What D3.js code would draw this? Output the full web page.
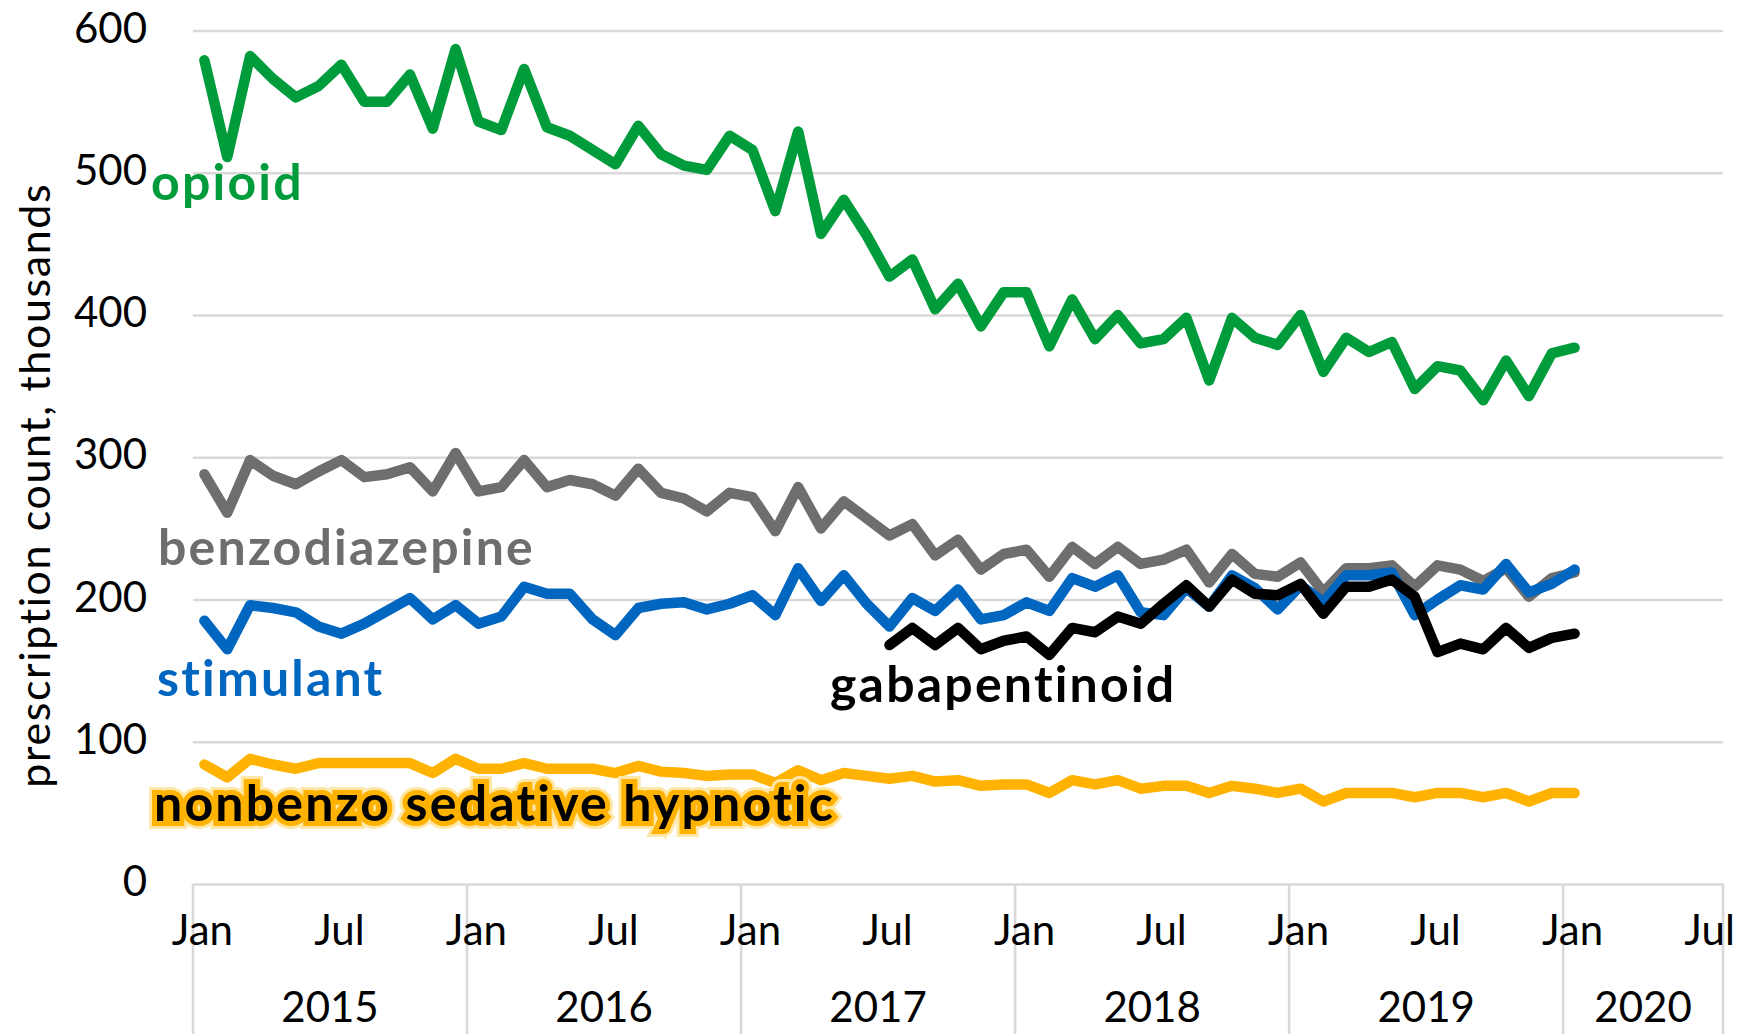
<!DOCTYPE html>
<html>
<head>
<meta charset="utf-8">
<script src="https://cdn.jsdelivr.net/npm/d3@7"></script>
<style>
  body { margin: 0; background: #fff; }
  text { font-family: Lato, "Open Sans", sans-serif; }
</style>
</head>
<body>
<div id="chart"></div>
<script>
//size of the svg
var width = 1739;
var height = 1034;

//plot area
var margin = {top: 30.5, right: 16, bottom: 150, left: 193};

//years and month labels on the category axis
var years = [2015, 2016, 2017, 2018, 2019, 2020];
var monthNames = ["Jan", "Feb", "Mar", "Apr", "May", "Jun",
                  "Jul", "Aug", "Sep", "Oct", "Nov", "Dec"];
var lastMonth = 7; //axis ends with Jul 2020
var yTicks = [0, 100, 200, 300, 400, 500, 600];

//monthly prescription counts (thousands), Jan 2015 - Jan 2020
var opioid = [579, 511, 582, 566, 553, 561, 576, 550, 550, 569, 531, 587,
              536, 530, 573, 532, 526, 516, 506, 533, 513, 505, 502, 526,
              516, 473, 529, 457, 481, 456, 427, 439, 404, 422, 392, 416,
              416, 378, 411, 383, 400, 380, 383, 398, 354, 398, 384, 379,
              400, 360, 384, 374, 381, 348, 364, 361, 340, 368, 343, 373,
              377];
var benzodiazepine = [288, 261, 298, 287, 281, 290, 298, 286, 288, 293, 276, 303,
                      276, 279, 298, 279, 284, 281, 273, 292, 275, 271, 262, 275,
                      272, 248, 279, 250, 269, 257, 245, 253, 231, 242, 221, 232,
                      235, 216, 237, 225, 237, 225, 228, 235, 212, 232, 218, 216,
                      226, 205, 222, 222, 224, 209, 224, 221, 213, 222, 202, 215,
                      219];
var stimulant = [185, 165, 196, 194, 191, 181, 176, 183, 192, 201, 186, 196,
                 183, 188, 209, 204, 204, 186, 175, 194, 197, 198, 193, 197,
                 203, 189, 222, 199, 217, 197, 181, 201, 192, 207, 186, 189,
                 198, 192, 215, 209, 217, 191, 189, 208, 195, 217, 208, 193,
                 210, 198, 217, 217, 219, 189, 200, 210, 207, 225, 205, 211,
                 221];
//gabapentinoid starts in Jul 2017
var gabapentinoidStart = 30;
var gabapentinoid = [168, 180, 168, 180, 165, 171,
                     174, 161, 180, 177, 188, 183, 197, 210, 195, 214, 204, 203,
                     211, 190, 209, 209, 214, 202, 163, 169, 165, 180, 166, 173,
                     176];
var nonbenzo = [84, 75, 88, 84, 81, 85, 85, 85, 85, 85, 78, 88,
                81, 81, 85, 81, 81, 81, 78, 83, 79, 78, 76, 77,
                77, 71, 80, 73, 78, 76, 74, 76, 72, 73, 69, 70,
                70, 64, 73, 70, 73, 67, 69, 69, 64, 69, 67, 64,
                67, 58, 64, 64, 64, 61, 64, 64, 61, 64, 58, 64,
                64];

//series names and colours, drawn in this order
var seriesNames = ["opioid", "benzodiazepine", "stimulant", "gabapentinoid",
                   "nonbenzo sedative hypnotic"];
var seriesColors = ["#009B3A", "#6E6E6E", "#0066C0", "#000000", "#FFB300"];

//build the month categories
var categories = [];
years.forEach(function(y) {
  monthNames.forEach(function(m, i) {
    if (y < 2020 || i < lastMonth) categories.push({year: y, month: i, name: m});
  });
});

var svg = d3.select("#chart")
            .append("svg")
            .attr("width", width)
            .attr("height", height);

//category x scale, points sit in the band centres
var xScale = d3.scaleBand()
               .domain(d3.range(categories.length))
               .range([margin.left, width - margin.right]);
var xMid = function(i) { return xScale(i) + xScale.bandwidth() / 2; };

var yScale = d3.scaleLinear()
               .domain([0, 600])
               .range([height - margin.bottom, margin.top]);

//horizontal gridlines (the 0 line doubles as the axis)
svg.append("g")
   .attr("class", "grid")
   .attr("transform", "translate(" + margin.left + ", 0)")
   .call(d3.axisLeft(yScale)
           .tickValues(yTicks)
           .tickSize(-(width - margin.left - margin.right))
           .tickFormat(""))
   .call(function(g) { g.select(".domain").remove(); })
   .selectAll("line")
   .attr("stroke", "#D9D9D9")
   .attr("stroke-width", 2.6);

//y tick labels
svg.append("g")
   .selectAll("text")
   .data(yTicks)
   .enter()
   .append("text")
   .attr("x", margin.left - 46)
   .attr("y", function(d) { return yScale(d) + 12; })
   .attr("text-anchor", "end")
   .style("font-size", "42px")
   .text(function(d) { return d; });

//y axis title
svg.append("text")
   .attr("transform", "translate(50, " + (yScale(300) + 28) + ") rotate(-90)")
   .attr("text-anchor", "middle")
   .style("font-size", "43px")
   .style("letter-spacing", "1.6px")
   .text("prescription count, thousands");

//year separators below the axis
var yearStarts = categories.filter(function(c) { return c.month === 0; })
                           .map(function(c) { return categories.indexOf(c); });
var separators = yearStarts.map(function(i) { return xScale(i); })
                           .concat([width - margin.right]);
svg.append("g")
   .selectAll("line")
   .data(separators)
   .enter()
   .append("line")
   .attr("x1", function(d) { return d; })
   .attr("x2", function(d) { return d; })
   .attr("y1", yScale(0))
   .attr("y2", height)
   .attr("stroke", "#D9D9D9")
   .attr("stroke-width", 2.6);

//Jan / Jul labels
var monthTicks = categories.map(function(c, i) { return {c: c, i: i}; })
                           .filter(function(d) { return d.c.month % 6 === 0; });
svg.append("g")
   .selectAll("text")
   .data(monthTicks)
   .enter()
   .append("text")
   .attr("x", function(d) { return xMid(d.i) - 2; })
   .attr("y", yScale(0) + 61)
   .attr("text-anchor", "middle")
   .style("font-size", "42px")
   .text(function(d) { return d.c.name; });

//year labels centred under each group
svg.append("g")
   .selectAll("text")
   .data(years)
   .enter()
   .append("text")
   .attr("x", function(y) {
     var idx = categories.map(function(c, i) { return c.year === y ? i : -1; })
                         .filter(function(i) { return i >= 0; });
     return (xScale(idx[0]) + xScale(idx[idx.length - 1]) + xScale.bandwidth()) / 2;
   })
   .attr("y", yScale(0) + 138)
   .attr("text-anchor", "middle")
   .style("font-size", "42px")
   .text(function(y) { return y; });

//series lines
var seriesData = [opioid, benzodiazepine, stimulant, gabapentinoid, nonbenzo];
var seriesOffset = [0, 0, 0, gabapentinoidStart, 0];
var lineGen = d3.line()
                .x(function(d) { return xMid(d.i); })
                .y(function(d) { return yScale(d.v); });

svg.append("g")
   .selectAll("path")
   .data(seriesData)
   .enter()
   .append("path")
   .attr("d", function(d, s) {
     return lineGen(d.map(function(v, j) { return {i: j + seriesOffset[s], v: v}; }));
   })
   .attr("fill", "none")
   .attr("stroke", function(d, s) { return seriesColors[s]; })
   .attr("stroke-width", 10.5)
   .attr("stroke-linejoin", "round")
   .attr("stroke-linecap", "round");

//series labels: x offset from plot left, y as a value on the axis
var labelDx = [-42, -35, -36, 637, -39];
var labelValue = [481, 224, 132, 128, 44];

var labels = svg.append("g")
                .selectAll("g")
                .data(seriesNames)
                .enter()
                .append("g");

//glow behind the nonbenzo label
labels.filter(function(d, s) { return s === 4; })
      .selectAll("text")
      .data([{w: 16, c: "#FFE7A8"}, {w: 10, c: "#FFB300"}])
      .enter()
      .append("text")
      .attr("x", margin.left + labelDx[4])
      .attr("y", yScale(labelValue[4]))
      .attr("fill", "#FFB300")
      .attr("stroke", function(d) { return d.c; })
      .attr("stroke-width", function(d) { return d.w; })
      .attr("stroke-linejoin", "miter")
      .style("font-size", "50px")
      .style("font-weight", "bold")
      .style("letter-spacing", "2.2px")
      .text(seriesNames[4]);

labels.append("text")
      .attr("x", function(d, s) { return margin.left + labelDx[s]; })
      .attr("y", function(d, s) { return yScale(labelValue[s]); })
      .attr("fill", function(d, s) { return s === 4 ? "#000" : seriesColors[s]; })
      .style("font-size", "50px")
      .style("font-weight", "bold")
      .style("letter-spacing", "2.2px")
      .text(function(d) { return d; });
</script>
</body>
</html>
